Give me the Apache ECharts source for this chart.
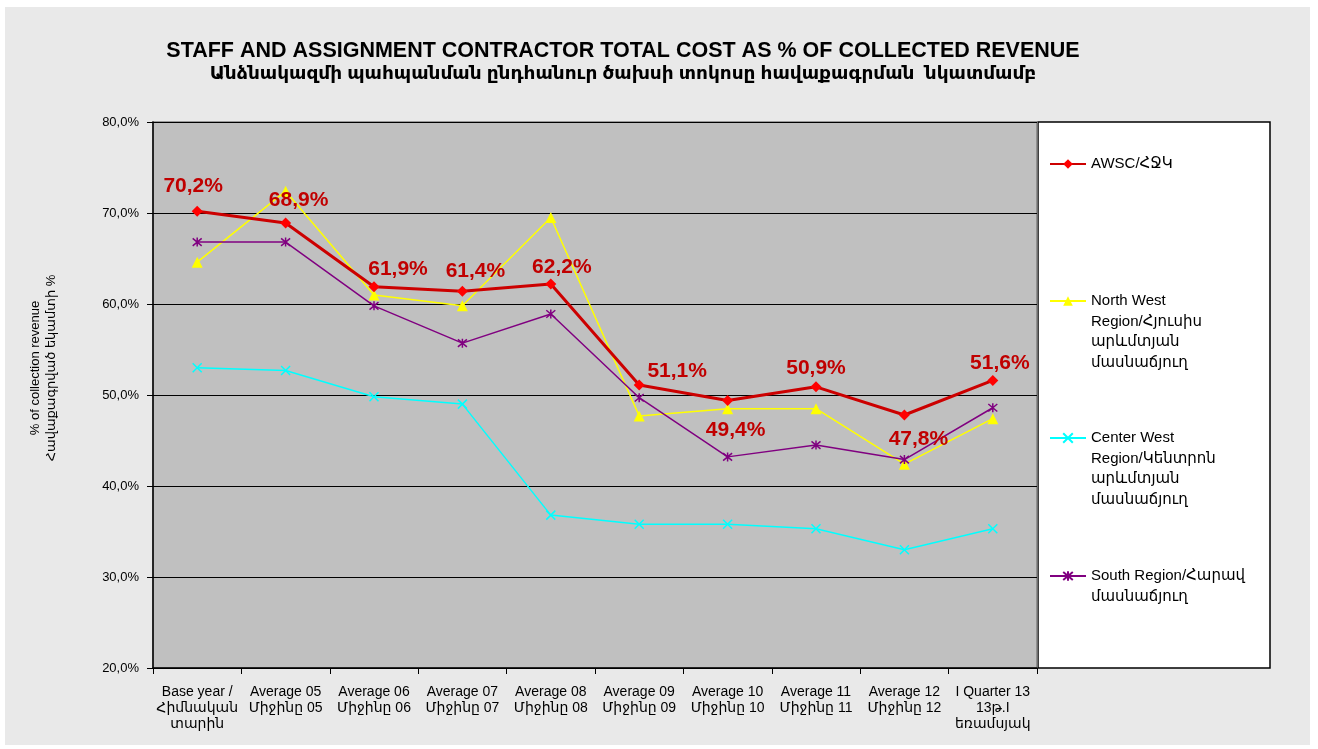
<!DOCTYPE html>
<html>
<head>
<meta charset="UTF-8">
<title>Staff and assignment contractor total cost</title>
<script src="https://cdn.jsdelivr.net/npm/echarts@6/dist/echarts.min.js"></script>
<style>
  html, body { margin: 0; padding: 0; background: #ffffff; }
  #chart { width: 1318px; height: 749px; }
</style>
</head>
<body>
<div id="chart"></div>
<script>
// categories (x axis)
var categories = [
  'Base year /\nՀիմնական\nտարին',
  'Average 05\nՄիջինը 05',
  'Average 06\nՄիջինը 06',
  'Average 07\nՄիջինը 07',
  'Average 08\nՄիջինը 08',
  'Average 09\nՄիջինը 09',
  'Average 10\nՄիջինը 10',
  'Average 11\nՄիջինը 11',
  'Average 12\nՄիջինը 12',
  'I Quarter 13\n13թ.I\nեռամսյակ'
];

// series names
var nameAwsc = 'AWSC/ՀՋԿ';
var nameNorth = 'North West\nRegion/Հյուսիս\nարևմտյան\nմասնաճյուղ';
var nameCenter = 'Center West\nRegion/Կենտրոն\nարևմտյան\nմասնաճյուղ';
var nameSouth = 'South Region/Հարավ\nմասնաճյուղ';

// values, % of collected revenue
var awsc   = [70.2, 68.9, 61.9, 61.4, 62.2, 51.1, 49.4, 50.9, 47.8, 51.6];
var north  = [64.6, 72.4, 61.0, 59.8, 69.5, 47.7, 48.5, 48.5, 42.4, 47.4];
var center = [53.0, 52.7, 49.8, 49.0, 36.8, 35.8, 35.8, 35.3, 33.0, 35.3];
var south  = [66.8, 66.8, 59.8, 55.7, 58.9, 49.7, 43.2, 44.5, 42.9, 48.6];

// y axis ticks
var yMin = 20, yMax = 80, yStep = 10;

// where each AWSC value label sits
var labelSide = ['top','top','top','top','top','top','bottom','top','bottom','top'];
var labelShift = [[-4,-4],[13,-2],[24,3],[13,1],[11,4],[38,7],[8,9],[0,2],[14,3],[7,4]];

var FONT = '"Liberation Sans", Arial, "DejaVu Sans", sans-serif';
var LEGEND_LH = 20.5;

function pct(v) { return v.toFixed(1).replace('.', ',') + '%'; }

var awscData = awsc.map(function (v, i) {
  return {
    value: v,
    label: { position: labelSide[i], offset: labelShift[i] }
  };
});

var crossPath = 'path://M0,0L10,10M10,0L0,10';
var starPath = 'path://M0,0L10,10M10,0L0,10M5,-1L5,11';

// one legend block per series; blank lines on top keep the icon on the first text line
function legendAt(name, firstLineY) {
  var extra = name.split('\n').length - 1;
  var pad = new Array(extra + 1).join('\n');
  return {
    data: [name],
    orient: 'vertical',
    left: 1049,
    top: firstLineY - extra * LEGEND_LH - LEGEND_LH / 2,
    padding: 0,
    itemWidth: 36,
    itemHeight: 12,
    itemGap: 0,
    selectedMode: false,
    formatter: function (n) { return pad + n; },
    textStyle: {
      fontFamily: FONT,
      fontSize: 15,
      color: '#000',
      lineHeight: LEGEND_LH
    }
  };
}

var chart = echarts.init(document.getElementById('chart'));
chart.setOption({
  backgroundColor: '#ffffff',
  animation: false,
  title: {
    text: 'STAFF AND ASSIGNMENT CONTRACTOR TOTAL COST AS % OF COLLECTED REVENUE',
    subtext: 'Անձնակազմի պահպանման ընդհանուր ծախսի տոկոսը հավաքագրման  նկատմամբ',
    left: 618,
    textAlign: 'center',
    top: 35,
    itemGap: 2,
    textStyle: { fontFamily: FONT, fontSize: 21.5, fontWeight: 'bold', color: '#000' },
    subtextStyle: { fontFamily: FONT, fontSize: 18.5, fontWeight: 'bold', color: '#000' }
  },
  graphic: [
    {
      type: 'rect', z: -10, silent: true,
      shape: { x: 5, y: 7, width: 1305, height: 738 },
      style: { fill: '#e9e9e9' }
    },
    {
      type: 'rect', z: -5, silent: true,
      shape: { x: 1038, y: 122, width: 232, height: 546 },
      style: { fill: '#ffffff', stroke: '#000', lineWidth: 1.5 }
    },
    {
      type: 'text', silent: true,
      x: 43, y: 368, rotation: Math.PI / 2,
      style: {
        text: '% of collection revenue\nՀավաքագրված եկամտի %',
        font: '13px ' + FONT,
        fill: '#000',
        align: 'center',
        verticalAlign: 'middle',
        lineHeight: 16
      }
    }
  ],
  legend: [
    legendAt(nameAwsc, 164),
    legendAt(nameNorth, 301),
    legendAt(nameCenter, 438),
    legendAt(nameSouth, 576)
  ],
  grid: {
    left: 153, top: 122, width: 884, height: 546,
    show: true,
    backgroundColor: '#c0c0c0',
    borderColor: '#808080',
    borderWidth: 1.5
  },
  xAxis: {
    type: 'category',
    data: categories,
    boundaryGap: true,
    axisLine: { lineStyle: { color: '#000', width: 1.5 } },
    axisTick: { show: true, length: 6, lineStyle: { color: '#000' } },
    axisLabel: {
      interval: 0,
      margin: 16,
      fontFamily: FONT,
      fontSize: 14,
      lineHeight: 16,
      color: '#000'
    },
    splitLine: { show: false }
  },
  yAxis: {
    type: 'value',
    min: yMin, max: yMax, interval: yStep,
    axisLine: { show: true, lineStyle: { color: '#000', width: 1.5 } },
    axisTick: { show: true, length: 6, lineStyle: { color: '#000' } },
    axisLabel: {
      margin: 14,
      fontFamily: FONT,
      fontSize: 13,
      color: '#000',
      formatter: pct
    },
    splitLine: { show: true, lineStyle: { color: '#000', width: 1.2 } }
  },
  series: [
    {
      name: nameNorth, type: 'line', data: north,
      symbol: 'triangle', symbolSize: 11,
      lineStyle: { color: '#ffff00', width: 1.5 },
      itemStyle: { color: '#ffff00' },
      z: 3
    },
    {
      name: nameCenter, type: 'line', data: center,
      symbol: crossPath, symbolSize: 9,
      lineStyle: { color: '#00ffff', width: 1.5 },
      itemStyle: { color: '#00ffff', borderColor: '#00ffff', borderWidth: 1.5 },
      z: 3
    },
    {
      name: nameSouth, type: 'line', data: south,
      symbol: starPath, symbolSize: 9,
      lineStyle: { color: '#800080', width: 1.5 },
      itemStyle: { color: '#800080', borderColor: '#800080', borderWidth: 1.5 },
      z: 3
    },
    {
      name: nameAwsc, type: 'line', data: awscData,
      symbol: 'diamond', symbolSize: 11,
      lineStyle: { color: '#cc0000', width: 3 },
      itemStyle: { color: '#ff0000' },
      z: 5,
      label: {
        show: true,
        distance: 5,
        fontFamily: FONT,
        fontSize: 21,
        fontWeight: 'bold',
        color: '#c00000',
        formatter: function (p) { return pct(p.value); }
      }
    }
  ]
});
</script>
</body>
</html>
